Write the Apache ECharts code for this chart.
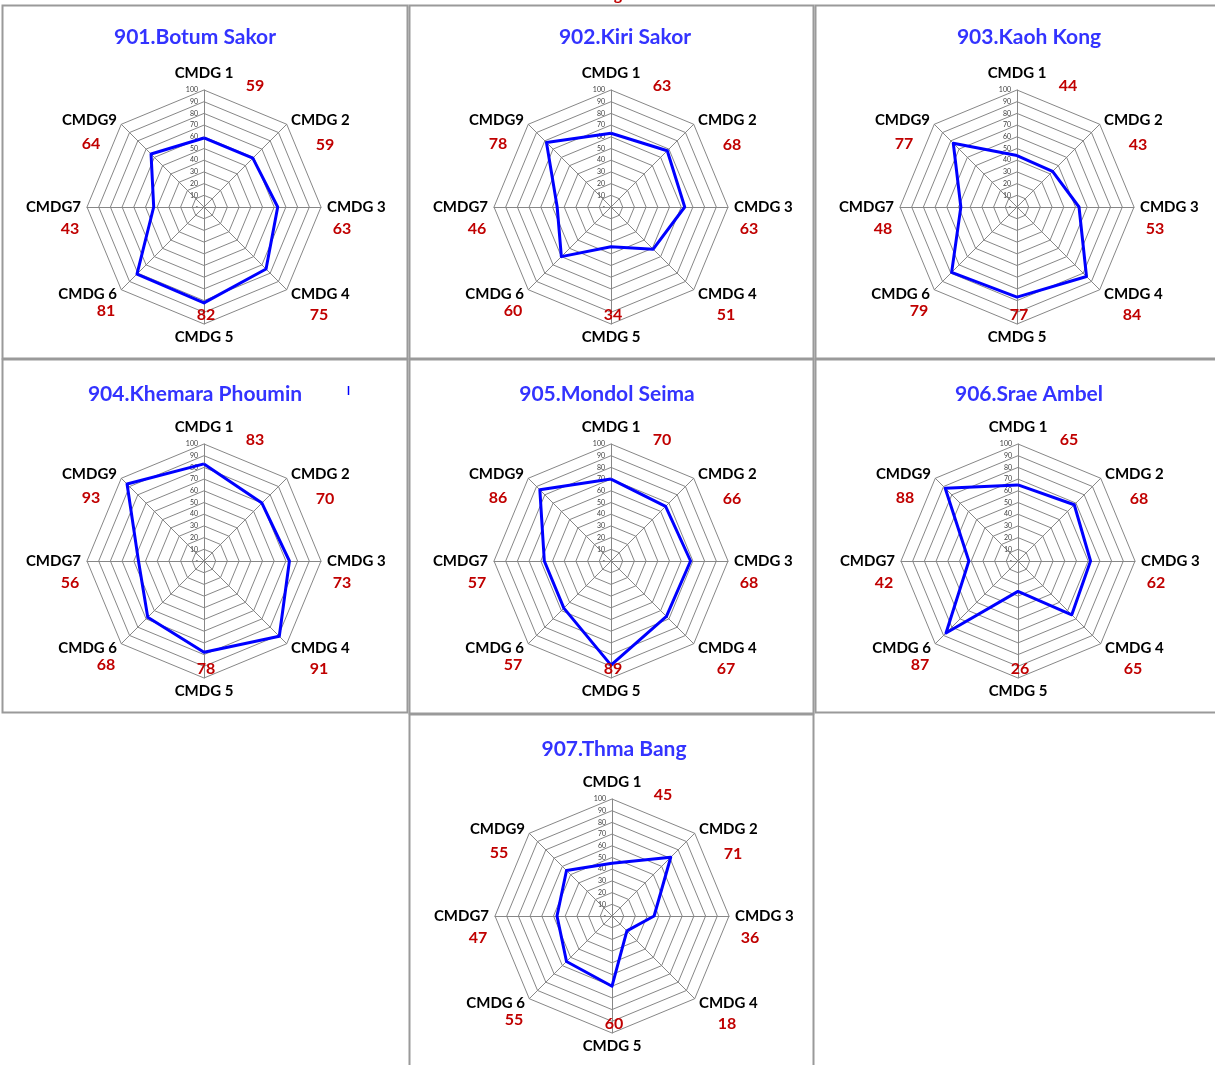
<!DOCTYPE html>
<html>
<head>
<meta charset="utf-8">
<script src="https://cdn.jsdelivr.net/npm/echarts@6/dist/echarts.min.js"></script>
<style>
  html, body { margin: 0; padding: 0; background: #fff; }
  #main { width: 1215px; height: 1065px; }
</style>
</head>
<body>
<div id="main"></div>
<script>
// axis names, in the order they are read clockwise from the top
var axisNames = ['CMDG 1', 'CMDG 2', 'CMDG 3', 'CMDG 4', 'CMDG 5', 'CMDG 6', 'CMDG7', 'CMDG9'];
var tickValues = [0, 10, 20, 30, 40, 50, 60, 70, 80, 90, 100];

var titles = ['901.Botum Sakor', '902.Kiri Sakor', '903.Kaoh Kong', '904.Khemara Phoumin',
  '905.Mondol Seima', '906.Srae Ambel', '907.Thma Bang'];

var botumSakor = [59, 59, 63, 75, 82, 81, 43, 64];
var kiriSakor = [63, 68, 63, 51, 34, 60, 46, 78];
var kaohKong = [44, 43, 53, 84, 77, 79, 48, 77];
var khemaraPhoumin = [83, 70, 73, 91, 78, 68, 56, 93];
var mondolSeima = [70, 66, 68, 67, 89, 57, 57, 86];
var sraeAmbel = [65, 68, 62, 65, 26, 87, 42, 88];
var thmaBang = [45, 71, 36, 18, 60, 55, 47, 55];

var allValues = [botumSakor, kiriSakor, kaohKong, khemaraPhoumin, mondolSeima, sraeAmbel, thmaBang];

// layout
var R = 117;
var centers = [[204, 207], [611, 207], [1017, 207], [204, 561], [611, 561], [1018, 561], [612, 916]];
var titlePos = [[195, 36], [625, 36], [1029, 36], [195, 393], [607, 393], [1029, 393], [614, 748]];
var panels = [[2, 5, 405, 353], [409, 5, 404, 353], [815, 5, 410, 353], [2, 359, 405, 353],
  [409, 359, 404, 354], [815, 359, 410, 353], [409, 714, 404, 370]];
// where the red value labels sit relative to the centre, per axis
var valueOffsets = [[51, -121], [121, -62], [138, 22], [115, 108], [2, 108], [-98, 104], [-134, 22], [-113, -63]];

// echarts radar runs counter-clockwise, so feed it reversed
var order = [0, 7, 6, 5, 4, 3, 2, 1];

var FONT = 'Lato';
var chart = echarts.init(document.getElementById('main'), null, { renderer: 'canvas' });

var radars = [], series = [], grids = [], xAxes = [], yAxes = [], titleList = [], graphics = [];

for (var p = 0; p < allValues.length; p++) {
  var c = centers[p];
  var vals = allValues[p];

  radars.push({
    center: [c[0], c[1]],
    radius: R,
    startAngle: 90,
    shape: 'polygon',
    splitNumber: 10,
    nameGap: 6,
    indicator: order.map(function (i) { return { name: axisNames[i], min: 0, max: 100 }; }),
    axisName: { color: '#000', fontFamily: FONT, fontWeight: 'bold', fontSize: 15, padding: [0, 0, 3, 0] },
    splitLine: { lineStyle: { color: '#878787', width: 1 } },
    splitArea: { show: false },
    axisLine: { lineStyle: { color: '#878787', width: 1 } },
    axisTick: { show: false },
    axisLabel: { show: false }
  });

  series.push({
    type: 'radar',
    radarIndex: p,
    symbol: 'none',
    silent: true,
    z: 5,
    lineStyle: { color: '#0000ff', width: 3 },
    data: [{ value: order.map(function (i) { return vals[i]; }) }]
  });

  // tick labels along the CMDG 1 axis
  grids.push({ left: c[0], top: c[1] - R, width: 1, height: R, containLabel: false });
  xAxes.push({ gridIndex: p, type: 'value', show: false });
  yAxes.push({
    gridIndex: p,
    type: 'value',
    min: tickValues[0],
    max: tickValues[tickValues.length - 1],
    interval: 10,
    axisLine: { show: false },
    axisTick: { show: false },
    splitLine: { show: false },
    axisLabel: {
      fontSize: 7, color: '#404040', fontFamily: FONT, margin: 6,
      formatter: function (v) { return v === 0 ? '-' : v; }
    }
  });

  titleList.push({
    text: titles[p],
    left: titlePos[p][0],
    top: titlePos[p][1] - 9,
    padding: 0,
    textAlign: 'center',
    textStyle: { color: '#3333ff', fontFamily: FONT, fontWeight: 'bold', fontSize: 21 }
  });

  var b = panels[p];
  graphics.push({
    type: 'rect', silent: true, z: -1,
    shape: { x: b[0] + 0.5, y: b[1] + 0.5, width: b[2], height: b[3] },
    style: { fill: 'none', stroke: '#9a9a9a', lineWidth: 2 }
  });

  for (var k = 0; k < vals.length; k++) {
    graphics.push({
      type: 'text', silent: true, z: 10,
      x: c[0] + valueOffsets[k][0],
      y: c[1] + valueOffsets[k][1],
      style: {
        text: String(vals[k]), fill: '#c00000',
        font: 'bold 16px ' + FONT, align: 'center', verticalAlign: 'middle'
      }
    });
  }
}

// little stray marks in the source picture
graphics.push({ type: 'line', silent: true, shape: { x1: 348.5, y1: 386, x2: 348.5, y2: 395 },
  style: { stroke: '#0000ff', lineWidth: 1.5 } });
graphics.push({ type: 'text', silent: true, x: 618, y: -13,
  style: { text: 'g', fill: '#c00000', font: 'bold 16px ' + FONT, align: 'center' } });

chart.setOption({
  backgroundColor: '#fff',
  animation: false,
  title: titleList,
  radar: radars,
  grid: grids,
  xAxis: xAxes,
  yAxis: yAxes,
  graphic: graphics,
  series: series
});
</script>
</body>
</html>
